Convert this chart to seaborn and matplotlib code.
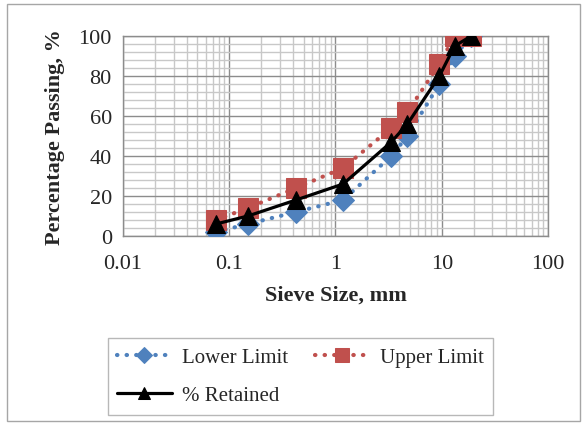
import numpy as np
import pandas as pd
import matplotlib
matplotlib.use("Agg")
import matplotlib.pyplot as plt
import seaborn as sns
from matplotlib.ticker import LogLocator, MultipleLocator, FixedLocator, FixedFormatter

# Data
sieve_mm = [0.075, 0.15, 0.425, 1.18, 3.35, 4.75, 9.5, 13.2, 19]
lower_limit = [2, 6, 12, 18, 40, 50, 76, 90, 100]
upper_limit = [8, 14, 24, 34, 54, 62, 86, 100, 100]
retained = [6, 10, 18, 26, 47, 56, 80, 95, 100]

sns.set_style("white")
plt.rcParams['font.family'] = ['Liberation Serif', 'DejaVu Serif']

fig = plt.figure(figsize=(5.87, 4.27), dpi=100)
ax = fig.add_axes([0.2095, 0.445, 0.7241, 0.4683])

blue = '#4F81BD'
red = '#C0504D'

sns.lineplot(x=sieve_mm, y=lower_limit, ax=ax, color=blue, linestyle=(0, (0.1, 2.2)),
             linewidth=3, marker='D', markersize=11, markeredgecolor=blue,
             dash_capstyle='round', label='Lower Limit', zorder=3)
sns.lineplot(x=sieve_mm, y=upper_limit, ax=ax, color=red, linestyle=(0, (0.1, 2.2)),
             linewidth=3, marker='s', markersize=14, markeredgecolor=red,
             dash_capstyle='round', label='Upper Limit', zorder=4)
sns.lineplot(x=sieve_mm, y=retained, ax=ax, color='black', linewidth=2.3,
             marker='^', markersize=13, markeredgecolor='black',
             label='% Retained', zorder=5)

ax.set_xscale('log')
ax.set_xlim(0.01, 100)
ax.set_ylim(0, 100)
ax.xaxis.set_major_locator(FixedLocator([0.01, 0.1, 1, 10, 100]))
ax.xaxis.set_major_formatter(FixedFormatter(['0.01', '0.1', '1', '10', '100']))
ax.xaxis.set_minor_locator(LogLocator(base=10, subs=np.arange(2, 10)))
ax.xaxis.set_minor_formatter(FixedFormatter([]))
ax.yaxis.set_major_locator(MultipleLocator(20))
ax.yaxis.set_minor_locator(MultipleLocator(4))

ax.grid(which='major', color='#8c8c8c', linewidth=1.0)
ax.grid(which='minor', color='#c8c8c8', linewidth=1.0)
ax.set_axisbelow(True)

for s in ax.spines.values():
    s.set_color('#8c8c8c')
    s.set_linewidth(1.0)

ax.tick_params(axis='both', which='major', labelsize=16, length=4, color='#8c8c8c',
               direction='out', pad=4)
ax.tick_params(axis='both', which='minor', length=0)
ax.tick_params(axis='x', which='major', pad=9)

ax.set_xlabel('Sieve Size, mm', fontsize=16, fontweight='bold', labelpad=8)
ax.set_ylabel('Percentage Passing, %', fontsize=16, fontweight='bold', labelpad=10)

# reorder so rows read: Lower, Upper / Retained
h, l = ax.get_legend_handles_labels()
order = [0, 2, 1]
leg = ax.legend([h[i] for i in order], [l[i] for i in order],
                loc='upper left', bbox_to_anchor=(108 / 587, 1 - 415 / 427, 385 / 587, 76 / 427),
                bbox_transform=fig.transFigure, mode='expand', ncol=2, fontsize=15,
                frameon=True, fancybox=False, edgecolor='#a6a6a6', handlelength=2.6,
                markerscale=0.7, columnspacing=0.2, handletextpad=0.5, borderaxespad=0,
                labelspacing=0.9, borderpad=0.45)
leg.get_frame().set_linewidth(1.0)

# Chart area border
fig.patches.append(plt.Rectangle((0.012, 0.012), 0.976, 0.976, transform=fig.transFigure,
                                 fill=False, edgecolor='#a6a6a6', linewidth=1.0))

fig.savefig('out.png', dpi=100)
